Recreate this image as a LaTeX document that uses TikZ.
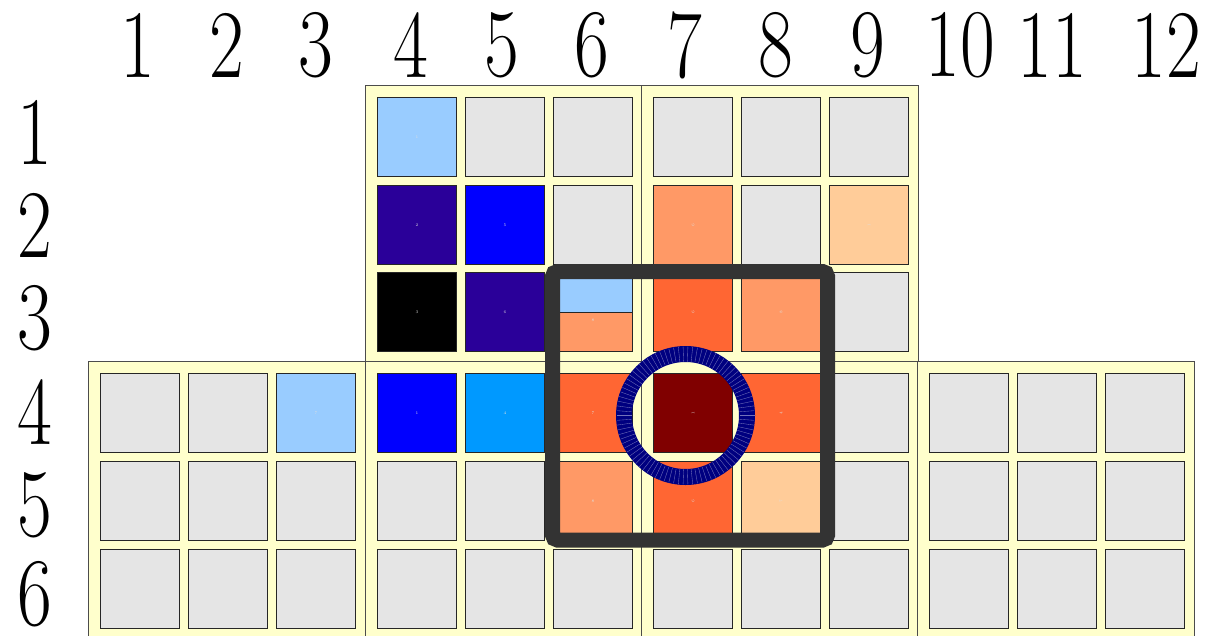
\documentclass[tikz,border=0pt]{standalone}
\usepackage{fontspec}
\definecolor{byellow}{HTML}{FFFFCC}
\definecolor{egray}{HTML}{E5E5E5}
\definecolor{lblue}{HTML}{99CCFF}
\definecolor{dpurple}{HTML}{2A0099}
\definecolor{pblue}{HTML}{0000FF}
\definecolor{sky}{HTML}{0099FF}
\definecolor{corange}{HTML}{FF6633}
\definecolor{salmon}{HTML}{FF9966}
\definecolor{peach}{HTML}{FFCC99}
\definecolor{dred}{HTML}{800000}
\definecolor{framegray}{HTML}{333333}
\definecolor{navyc}{HTML}{000080}
\newcommand{\labtext}[1]{\scalebox{0.78}[1]{#1}}
\begin{document}
\begin{tikzpicture}[x=1pt,y=-1pt,
  lab/.style={font=\rmfamily\fontsize{97}{97}\selectfont, inner sep=0pt},
  blockbox/.style={fill=byellow, draw=black!70, line width=0.9pt, anchor=north west, inner sep=0pt, minimum height=276pt},
  cellbox/.style={draw=black!85, line width=1pt, anchor=north west, inner sep=0pt, minimum size=79pt,
    font=\fontsize{4}{4}\selectfont, text=white!75!gray},
  framebox/.style={draw=framegray, line width=15pt, rounded corners=5pt},
  ringc/.style={circle, draw=navyc, line width=16pt, minimum size=123pt, inner sep=0pt}
]
\fill[white] (0,0) rectangle (1211,635);
\useasboundingbox (0,0) rectangle (1211,635);

% column labels
\foreach \c/\x in {1/138,2/227,3/316,4/411,5/502,6/592,7/685,8/776,9/868,10/960,11/1052,12/1166}
  \node[lab] (col\c) at (\x,45) {\labtext{\c}};
% row labels
\foreach \r/\y in {1/132,2/225,3/318,4/412,5/505,6/594}
  \node[lab] (row\r) at (35,\y) {\labtext{\r}};

% blocks
\node[blockbox, minimum width=276pt] (blkA) at (365,85) {};
\node[blockbox, minimum width=277pt] (blkB) at (641,85) {};
\node[blockbox, minimum width=277pt] (blkC) at (88,361) {};
\node[blockbox, minimum width=276pt] (blkD) at (365,361) {};
\node[blockbox, minimum width=276pt] (blkE) at (641,361) {};
\node[blockbox, minimum width=277pt] (blkF) at (917,361) {};

% cells
\foreach \r/\c/\col/\t/\rot in {
  1/4/lblue/1/0, 1/5/egray//0, 1/6/egray//0, 1/7/egray//0, 1/8/egray//0, 1/9/egray//0,
  2/4/dpurple/2/0, 2/5/pblue/5/0, 2/6/egray//0, 2/7/salmon/6/90, 2/8/egray//0, 2/9/peach/1/90,
  3/4/black/3/0, 3/5/dpurple/6/0, 3/7/corange/6/90, 3/8/salmon/8/90, 3/9/egray//0,
  4/1/egray//0, 4/2/egray//0, 4/3/lblue/7/0, 4/4/pblue/1/0, 4/5/sky/4/0, 4/6/corange/7/0,
  4/7/dred/1/90, 4/8/corange/4/90, 4/9/egray//0, 4/10/egray//0, 4/11/egray//0, 4/12/egray//0,
  5/1/egray//0, 5/2/egray//0, 5/3/egray//0, 5/4/egray//0, 5/5/egray//0, 5/6/salmon/8/0,
  5/7/corange/6/90, 5/8/peach/7/90, 5/9/egray//0, 5/10/egray//0, 5/11/egray//0, 5/12/egray//0,
  6/1/egray//0, 6/2/egray//0, 6/3/egray//0, 6/4/egray//0, 6/5/egray//0, 6/6/egray//0,
  6/7/egray//0, 6/8/egray//0, 6/9/egray//0, 6/10/egray//0, 6/11/egray//0, 6/12/egray//0}
{
  \pgfmathsetmacro\cx{{100,188,276,377,465,553,653,741,829,929,1017,1105}[\c-1]}
  \pgfmathsetmacro\cy{{97,185,272,373,461,549}[\r-1]}
  \node[cellbox, fill=\col] (cell-\r-\c) at (\cx,\cy) {\rotatebox{\rot}{\t}};
}
% split cell row 3, column 6
\node[cellbox, fill=salmon,
  path picture={\fill[lblue] (path picture bounding box.north west) rectangle (path picture bounding box.east);
                \draw[black!85, line width=1pt] (path picture bounding box.west) -- (path picture bounding box.east);}]
  (cell-3-6) at (553,272) {\raisebox{-19pt}{8}};

% highlight frame
\coordinate (frameNW) at (552.5,271.5);
\coordinate (frameSE) at (827.5,540);
\draw[framebox] (frameNW) rectangle (frameSE);

% ring
\node[ringc] (ring) at (685.5,415.5) {};
\foreach \a in {0,4,...,356}
  \draw[navyc!55!white, line width=0.35pt] (ring.center) ++(\a:54) -- ++(\a:15);
\end{tikzpicture}
\end{document}
